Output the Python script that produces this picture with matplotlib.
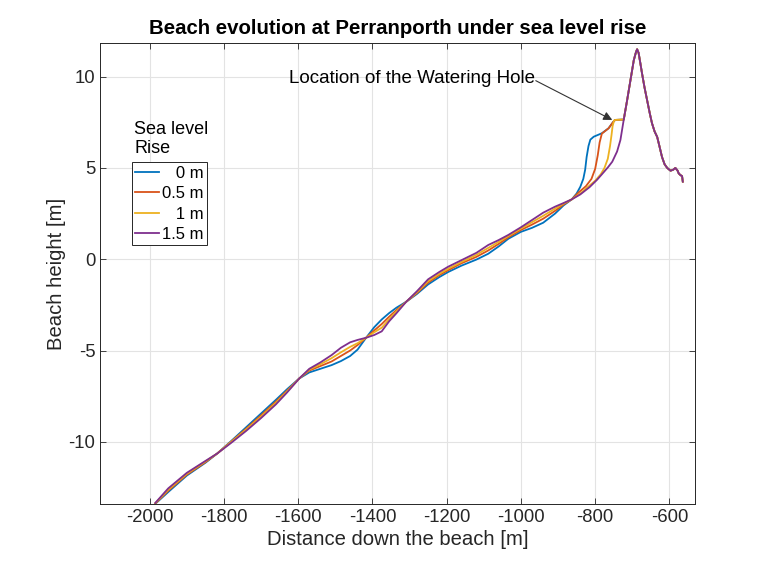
import matplotlib
matplotlib.use("Agg")
import matplotlib.pyplot as plt

plt.rcParams['font.family'] = ['Liberation Sans', 'DejaVu Sans']
plt.rcParams['axes.unicode_minus'] = False

# shared x positions for the lower part of the profile
x_low = [-1985, -1950, -1900, -1850, -1818, -1780, -1740, -1700, -1660, -1630,
         -1597, -1570, -1540, -1510, -1485, -1460, -1440, -1417, -1395, -1375,
         -1355, -1335, -1309, -1280, -1250, -1220, -1196, -1160, -1120, -1088,
         -1060, -1034, -1000, -970, -940, -908, -885, -863]

y_low_0 = [-13.4, -12.75, -11.85, -11.15, -10.64, -9.95, -9.2, -8.45, -7.7, -7.12,
           -6.53, -6.2, -6.0, -5.8, -5.58, -5.3, -4.95, -4.3, -3.72, -3.3,
           -2.95, -2.65, -2.33, -1.9, -1.38, -0.98, -0.7, -0.35, -0.02, 0.3,
           0.7, 1.12, 1.5, 1.72, 2.0, 2.5, 2.95, 3.28]
y_low_05 = [-13.38, -12.68, -11.8, -11.12, -10.64, -9.98, -9.28, -8.55, -7.8, -7.2,
            -6.53, -6.1, -5.85, -5.6, -5.3, -5.0, -4.7, -4.3, -3.9, -3.55,
            -3.15, -2.78, -2.33, -1.85, -1.28, -0.87, -0.6, -0.22, 0.13, 0.48,
            0.84, 1.2, 1.6, 1.9, 2.22, 2.65, 3.0, 3.28]
y_low_1 = [-13.37, -12.62, -11.75, -11.08, -10.64, -10.0, -9.33, -8.62, -7.87, -7.25,
           -6.53, -6.05, -5.75, -5.42, -5.1, -4.8, -4.6, -4.3, -4.0, -3.75,
           -3.3, -2.85, -2.33, -1.8, -1.2, -0.8, -0.52, -0.15, 0.24, 0.62,
           0.95, 1.27, 1.68, 2.03, 2.38, 2.77, 3.05, 3.28]
y_low_15 = [-13.35, -12.55, -11.7, -11.05, -10.64, -10.05, -9.4, -8.7, -7.95, -7.3,
            -6.53, -6.0, -5.65, -5.25, -4.85, -4.55, -4.42, -4.3, -4.15, -3.95,
            -3.4, -2.95, -2.33, -1.75, -1.1, -0.7, -0.41, -0.05, 0.35, 0.78,
            1.05, 1.33, 1.75, 2.15, 2.55, 2.88, 3.08, 3.28]

# upper beach / dune toe, differs per scenario
x_up_0 = [-850, -840, -832, -827, -823, -818, -813, -804, -782, -764, -751, -746]
y_up_0 = [3.6, 3.97, 4.4, 4.9, 5.6, 6.2, 6.55, 6.71, 6.9, 7.17, 7.53, 7.63]
x_up_05 = [-845, -825, -810, -800, -793, -788, -782, -764, -751, -746]
y_up_05 = [3.65, 4.0, 4.4, 4.95, 5.7, 6.4, 6.88, 7.17, 7.53, 7.63]
x_up_1 = [-840, -820, -800, -785, -775, -766, -760, -756, -753, -749, -746]
y_up_1 = [3.6, 3.95, 4.3, 4.65, 5.0, 5.5, 6.2, 6.8, 7.3, 7.6, 7.63]
x_up_15 = [-840, -815, -795, -782, -765, -754, -741, -732]
y_up_15 = [3.55, 3.95, 4.35, 4.65, 5.05, 5.34, 5.9, 6.53]

# dune crest and back, same for all scenarios
x_dune = [-723, -714, -705, -696, -690, -687, -683, -678, -674, -667, -660, -653,
          -647, -640, -633, -627, -620, -613, -606, -600, -597, -590, -584, -578,
          -575, -570, -566, -564]
y_dune = [7.65, 8.7, 9.8, 10.9, 11.35, 11.5, 11.3, 10.7, 10.2, 9.4, 8.7, 8.0,
          7.45, 7.0, 6.7, 6.2, 5.6, 5.2, 5.0, 4.9, 4.85, 4.9, 5.0, 4.85,
          4.7, 4.6, 4.56, 4.25]

labels = ['   0 m', '0.5 m', '   1 m', '1.5 m']
colors = ['#0072BD', '#D95319', '#EDB120', '#7E2F8E']
ups = [(x_up_0, y_up_0), (x_up_05, y_up_05), (x_up_1, y_up_1), (x_up_15, y_up_15)]
lows = [y_low_0, y_low_05, y_low_1, y_low_15]

fig = plt.figure(figsize=(7.68, 5.67), dpi=100)
ax = fig.add_axes([0.1306, 0.111, 0.7744, 0.8137])

for ylow, (xu, yu), lab, c in zip(lows, ups, labels, colors):
    xs = x_low + xu + x_dune
    ys = ylow + yu + y_dune
    ax.plot(xs, ys, color=c, lw=1.3, label=lab)

ax.set_xlim(-2133, -531)
ax.set_ylim(-13.41, 11.86)
ax.set_xticks(range(-2000, -599, 200))
ax.set_yticks([-10, -5, 0, 5, 10])

dark = '#262626'
ax.grid(True, color='#e3e3e3', lw=0.8)
ax.set_axisbelow(True)
ax.tick_params(direction='in', top=True, right=True, labelsize=13.3,
               colors=dark, length=4, width=0.6)
for s in ax.spines.values():
    s.set_color(dark)
    s.set_linewidth(0.7)

ax.set_title('Beach evolution at Perranporth under sea level rise',
             fontsize=14.7, fontweight='bold', pad=6)
ax.set_xlabel('Distance down the beach [m]', fontsize=14.6, color=dark, labelpad=3)
ax.set_ylabel('Beach height [m]', fontsize=14.6, color=dark, labelpad=2)

# annotation text with arrow starting at its right end
ax.text(-963, 9.92, 'Location of the Watering Hole', ha='right', va='center',
        fontsize=13.5)
ax.annotate('', xy=(-754, 7.63), xytext=(-960, 9.78),
            arrowprops=dict(arrowstyle='-|>', color='#333333', lw=0.8,
                            shrinkA=0, shrinkB=0, mutation_scale=13))

leg = ax.legend(loc='upper left', bbox_to_anchor=(0.053, 0.741), borderaxespad=0,
                fontsize=12, handlelength=1.45, handletextpad=0.15, labelspacing=0.33,
                borderpad=0.2, fancybox=False, framealpha=1, edgecolor=dark)
leg.get_frame().set_linewidth(0.7)

ax.text(0.0567, 0.752, 'Sea level\nRise', transform=ax.transAxes, fontsize=13,
        ha='left', va='bottom', linespacing=1.2)

fig.savefig('out.png', dpi=100)
